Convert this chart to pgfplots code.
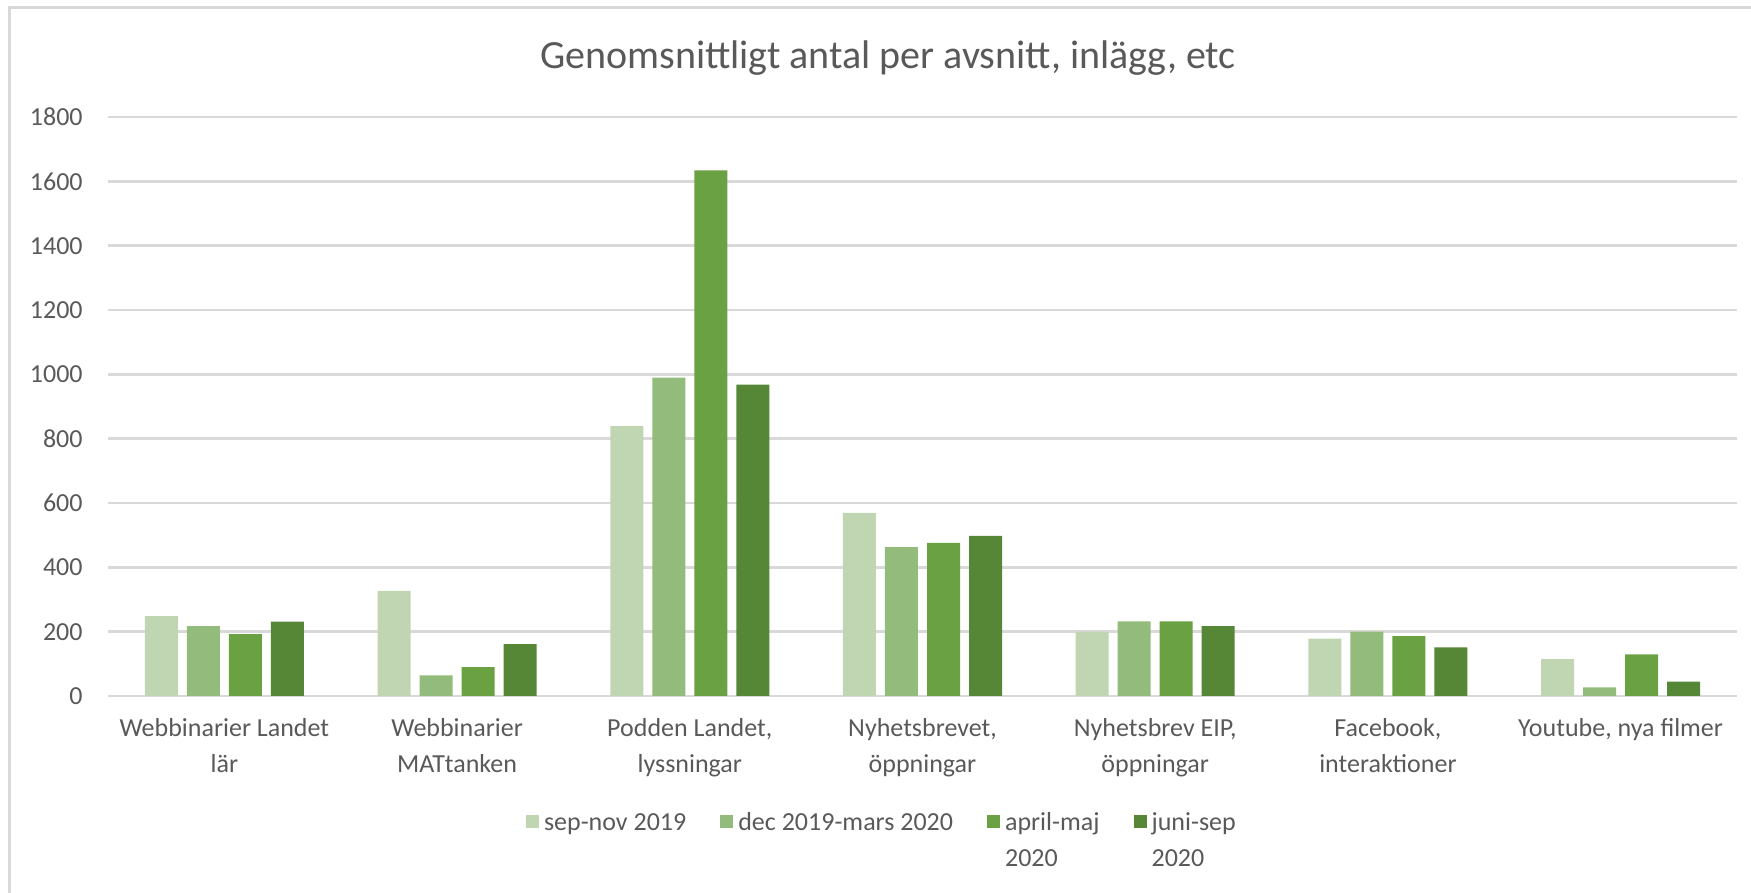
\documentclass[border=0pt]{standalone}
\usepackage{fontspec}
\setmainfont{Carlito}
\usepackage{pgfplots}
\pgfplotsset{compat=1.18}
\definecolor{txt}{HTML}{595959}
\definecolor{grd}{HTML}{D9D9D9}
\definecolor{c1}{HTML}{C0D6B3}
\definecolor{c2}{HTML}{93BB7B}
\definecolor{c3}{HTML}{6AA143}
\definecolor{c4}{HTML}{568736}
\newcommand{\tl}[1]{\begin{tabular}[t]{@{}c@{}}#1\end{tabular}}
\newcommand{\lt}[1]{\begin{tabular}[t]{@{}l@{}}#1\end{tabular}}
\begin{document}
\begin{tikzpicture}
\useasboundingbox (0,0) rectangle (875.5pt,446.5pt);
\draw[grd,line width=1.5pt] (4.75pt,0) -- (4.75pt,442.75pt) -- (875.5pt,442.75pt);
\node[anchor=base,text=txt,font=\fontsize{20}{24}\selectfont,inner sep=0pt] at (444pt,412.35pt) {Genomsnittligt antal per avsnitt, inlägg, etc};
\begin{axis}[
  at={(54pt,98.5pt)}, anchor=south west,
  scale only axis, width=814.5pt, height=289.5pt,
  xmin=-0.5, xmax=6.5, ymin=0, ymax=1800,
  ytick={0,200,...,1800},
  xtick={0,...,6},
  xticklabels={{\tl{Webbinarier Landet\\lär}},{\tl{Webbinarier\\MATtanken}},{\tl{Podden Landet,\\lyssningar}},{\tl{Nyhetsbrevet,\\öppningar}},{\tl{Nyhetsbrev EIP,\\öppningar}},{\tl{Facebook,\\interaktioner}},{\tl{Youtube, nya filmer}}},
  ymajorgrids, grid style={grd,line width=1.3pt},
  axis line style={draw=none},
  major tick length=0pt,
  tick style={draw=none},
  /pgf/number format/assume math mode=true,
  /pgf/number format/1000 sep={},
  yticklabel style={anchor=east, inner sep=0pt, xshift=-12.5pt, text=txt, font=\fontsize{13}{18}\selectfont},
  xticklabel style={anchor=base, inner sep=0pt, yshift=-20.35pt, text=txt, font=\fontsize{13}{18}\selectfont},
  ybar, bar width=0.1418,
  legend columns=4,
  legend image code/.code={\fill[#1] (0pt,1pt) rectangle (6.5pt,7.5pt);},
  legend style={at={(0.2566,-0.188)}, anchor=north west, draw=none, fill=none, inner sep=0pt, outer sep=0pt,
    cells={anchor=base west},
    nodes={inner sep=0pt, text=txt, font=\fontsize{13}{18}\selectfont},
    column sep=2.5pt, /tikz/every even column/.append style={column sep=17pt}},
]
\addplot[bar shift=-0.2708, fill=c1, draw=none] coordinates {(0,248) (1,327) (2,839) (3,569) (4,200) (5,178) (6,115)};
\addlegendentry{\lt{sep-nov 2019}}
\addplot[bar shift=-0.0903, fill=c2, draw=none] coordinates {(0,217) (1,64) (2,990) (3,463) (4,232) (5,200) (6,27)};
\addlegendentry{\lt{dec 2019-mars 2020}}
\addplot[bar shift=0.0903, fill=c3, draw=none] coordinates {(0,192) (1,90) (2,1634) (3,476) (4,232) (5,186) (6,129)};
\addlegendentry{\lt{april-maj\\2020}}
\addplot[bar shift=0.2708, fill=c4, draw=none] coordinates {(0,231) (1,161) (2,968) (3,498) (4,217) (5,151) (6,45)};
\addlegendentry{\lt{juni-sep\\2020}}
\end{axis}
\end{tikzpicture}
\end{document}
